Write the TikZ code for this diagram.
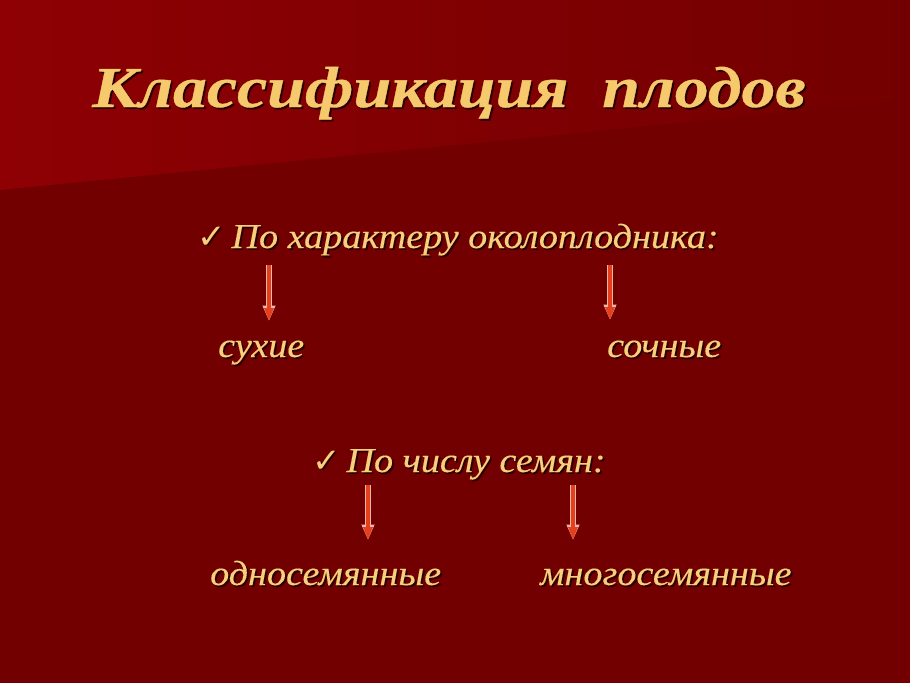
\documentclass[tikz,border=0pt]{standalone}
\usepackage{fontspec}
\setmainfont{Liberation Serif}
\newfontfamily\titlefont[FakeStretch=1.17,FakeBold=0.6]{Liberation Serif}
\newfontfamily\bodyfont[FakeStretch=1.09,FakeBold=0.2]{Liberation Serif}
\newfontfamily\symfont{DejaVu Sans}
\usetikzlibrary{arrows.meta}
\definecolor{bgdark}{HTML}{720000}
\definecolor{bgleft}{HTML}{8E0004}
\definecolor{bgright}{HTML}{730000}
\definecolor{txtgold}{HTML}{F8CF7C}
\definecolor{titlegold}{HTML}{F6C96C}
\definecolor{txtshadow}{HTML}{2A0000}
\definecolor{arrowfill}{HTML}{E4401E}
\definecolor{arrowedge}{HTML}{F4B8A8}
\newcommand\shtext[2][1.8pt]{\leavevmode\rlap{\hspace{#1}\raisebox{-#1}{\color{txtshadow}#2}}#2}
\tikzset{
  titletext/.style={anchor=base west, inner sep=0pt, text=titlegold,
    font=\titlefont\bfseries\itshape\fontsize{58}{64}\selectfont},
  bodytext/.style={anchor=base west, inner sep=0pt, text=txtgold,
    font=\bodyfont\itshape\fontsize{35}{40}\selectfont},
  downarrow/.style={line cap=butt, draw=arrowfill, line width=3.6pt,
    -{Triangle[length=13pt,width=9pt]},
    preaction={draw=arrowedge, line width=5.4pt, -{Triangle[length=15.5pt,width=12pt]}}}
}
\newcommand\chk{{\symfont\fontsize{34}{38}\selectfont ✓}}
\begin{document}
\begin{tikzpicture}[x=1pt,y=-1pt]
\useasboundingbox (0,0) rectangle (910,683);
\fill[bgdark] (0,0) rectangle (910,683);
\shade[left color=bgleft, right color=bgright] (0,0) -- (910,0) -- (910,100) -- (0,190) -- cycle;

\node[titletext] (title) at (92,107) {\shtext{Классификация\ \ плодов}};

\node[bodytext] (crit1) at (197,248) {\shtext{\chk\,По характеру околоплодника:}};
\node[bodytext] (dry) at (218,357) {\shtext{сухие}};
\node[bodytext] (juicy) at (607,357) {\shtext{сочные}};
\node[bodytext] (crit2) at (312,472) {\shtext{\chk\,По числу семян:}};
\node[bodytext] (oneseed) at (210,585) {\shtext{односемянные}};
\node[bodytext] (manyseed) at (540,585) {\shtext{многосемянные}};

\coordinate (a1s) at (269,265); \coordinate (a1e) at (269,321);
\coordinate (a2s) at (610,265); \coordinate (a2e) at (610,320);
\coordinate (a3s) at (368,485); \coordinate (a3e) at (368,540);
\coordinate (a4s) at (573,485); \coordinate (a4e) at (573,540);
\draw[downarrow] (a1s) -- (a1e);
\draw[downarrow] (a2s) -- (a2e);
\draw[downarrow] (a3s) -- (a3e);
\draw[downarrow] (a4s) -- (a4e);
\end{tikzpicture}
\end{document}
